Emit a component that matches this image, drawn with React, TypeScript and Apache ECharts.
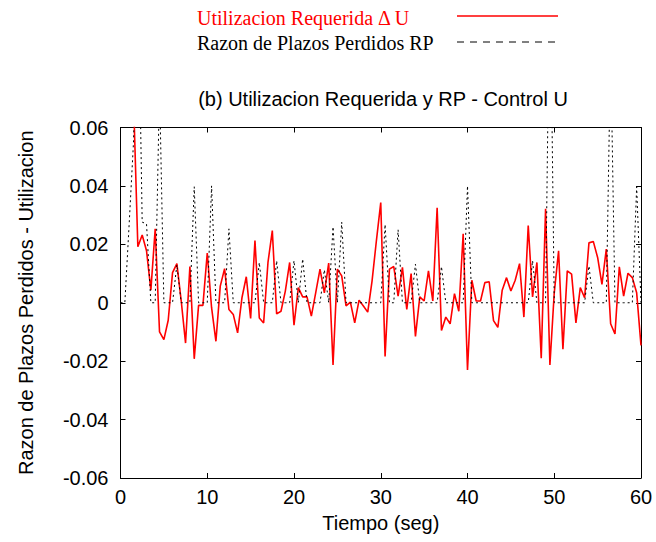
import React, { useEffect, useRef } from "react";
import * as echarts from "echarts";

// Sampling step (s) of both recorded signals
const STEP = 0.5;

// Utilizacion Requerida ΔU, samples every 0.5 s starting at t = 1.5 s
const RED_START = 1.5;
const redValues = [
  0.07, 0.0192, 0.0232, 0.0178, 0.0043, 0.0253, -0.01, -0.0126, -0.006, 0.0103,
  0.0134, 0.0006, -0.0138, 0.0124, -0.0192, -0.0009, -0.0009, 0.017, -0.0017, -0.0132,
  0.0057, 0.0117, -0.0023, -0.004, -0.0103, 0.0017, 0.0089, -0.0054, 0.0213, -0.0052,
  -0.0069, 0.0138, 0.0247, -0.0038, -0.0029, 0.004, 0.0138, -0.0077, 0.0052, 0.002,
  0.002, -0.0046, 0.0034, 0.0115, 0.0034, 0.0136, -0.0213, 0.0115, 0.0092, -0.0011,
  0.0002, -0.0069, 0.0009, -0.0011, -0.0032, 0.0075, 0.0213, 0.0343, -0.0184, 0.0115,
  0.0124, 0.0023, 0.0121, -0.0023, 0.01, -0.0115, 0.002, 0.0006, 0.0109, 0.0006,
  0.0325, -0.0095, -0.0049, -0.0072, 0.0031, -0.0029, 0.0236, -0.023, 0.0077, 0.0006,
  0.0006, 0.0069, 0.0072, -0.0061, -0.0084, 0.0043, 0.0086, 0.004, 0.0077, 0.0134,
  -0.0049, 0.0264, 0.002, 0.0138, -0.019, 0.0322, -0.0213, 0.0034, 0.0178, -0.0159,
  0.0109, 0.0098, -0.0069, 0.0052, 0.0017, 0.0205, 0.021, 0.0155, 0.0063, 0.0184,
  -0.0072, -0.0107, 0.0123, 0.0023, 0.0101, 0.0086, 0.0034, -0.0146,
];

// Razon de Plazos Perdidos RP, samples every 0.5 s starting at t = 0 s
const RP_START = 0;
const rpValues = [
  0, 0, 0.027, 0.055, 0.12, 0.0276, 0.027, 0, 0, 0.074,
  0, 0, 0, 0.013, 0, 0, 0, 0.0397, 0, 0,
  0, 0.04, 0, 0, 0, 0.0253, 0, 0, 0, 0,
  0, 0, 0.0138, 0, 0, 0, 0.0144, 0, 0, 0,
  0.0144, 0, 0.015, 0, 0, 0, 0, 0.0113, 0, 0.026,
  0, 0.0276, 0, 0, 0, 0, 0, 0, 0, 0,
  0, 0.0268, 0, 0, 0.025, 0, 0, 0, 0.0132, 0,
  0, 0, 0, 0, 0.0124, 0, 0, 0, 0, 0,
  0.04, 0, 0, 0, 0, 0, 0, 0, 0, 0,
  0, 0, 0, 0, 0, 0.0144, 0, 0, 0, 0.12,
  0, 0, 0, 0, 0, 0, 0, 0, 0.0126, 0,
  0, 0, 0, 0.087, 0, 0, 0, 0, 0, 0.0397,
  0,
];

const xTicks = { min: 0, max: 60, interval: 10 };
const yTicks = { min: -0.06, max: 0.06, interval: 0.02 };

const TITLE = "(b) Utilizacion Requerida y RP - Control U";
const X_NAME = "Tiempo (seg)";
const Y_NAME = "Razon de Plazos Perdidos - Utilizacion";
const RED_NAME = "Utilizacion Requerida \u0394 U";
const RP_NAME = "Razon de Plazos Perdidos RP";

const SANS = "'Liberation Sans', Arial, Helvetica, sans-serif";
const SERIF = "'Liberation Serif', 'Times New Roman', serif";

const toPairs = (start: number, vals: number[]) =>
  vals.map((v, i) => [start + i * STEP, v]);

export default function App() {
  const ref = useRef<HTMLDivElement>(null);

  useEffect(() => {
    if (!ref.current) return;
    const chart = echarts.init(ref.current, undefined, { renderer: "svg" });

    const axisLine = { show: true, onZero: false, lineStyle: { color: "#000", width: 1 } };
    const tickIn = { show: true, inside: true, length: 5, lineStyle: { color: "#000", width: 1 } };
    const labelStyle = { color: "#000", fontFamily: SANS, fontSize: 20 };

    const yFmt = (v: number) => (Math.abs(v) < 1e-9 ? "0" : v.toFixed(2));

    chart.setOption({
      animation: false,
      backgroundColor: "#fff",
      title: {
        text: TITLE,
        left: 383,
        top: 89,
        padding: 0,
        textAlign: "center",
        textStyle: { fontFamily: SANS, fontSize: 20, fontWeight: "normal", color: "#000" },
      },
      grid: { left: 120.5, right: 15, top: 127.5, bottom: 64, containLabel: false },
      xAxis: [
        {
          type: "value",
          position: "bottom",
          ...xTicks,
          name: X_NAME,
          nameLocation: "middle",
          nameGap: 35,
          nameTextStyle: labelStyle,
          axisLine,
          axisTick: tickIn,
          axisLabel: { ...labelStyle, margin: 9 },
          splitLine: { show: false },
        },
        {
          type: "value",
          position: "top",
          ...xTicks,
          axisLine,
          axisTick: tickIn,
          axisLabel: { show: false },
          splitLine: { show: false },
        },
      ],
      yAxis: [
        {
          type: "value",
          position: "left",
          ...yTicks,
          name: Y_NAME,
          nameLocation: "middle",
          nameGap: 85,
          nameTextStyle: labelStyle,
          axisLine,
          axisTick: tickIn,
          axisLabel: { ...labelStyle, margin: 12, formatter: yFmt },
          splitLine: { show: false },
        },
        {
          type: "value",
          position: "right",
          ...yTicks,
          axisLine,
          axisTick: tickIn,
          axisLabel: { show: false },
          splitLine: { show: false },
        },
      ],
      series: [
        {
          name: RED_NAME,
          type: "line",
          xAxisIndex: 0,
          yAxisIndex: 0,
          data: toPairs(RED_START, redValues),
          symbol: "none",
          clip: true,
          lineStyle: { color: "#ff0000", width: 1.6 },
          itemStyle: { color: "#ff0000" },
        },
        {
          name: RP_NAME,
          type: "line",
          xAxisIndex: 0,
          yAxisIndex: 0,
          data: toPairs(RP_START, rpValues),
          symbol: "none",
          clip: true,
          lineStyle: { color: "#000", width: 1, type: [2, 3] },
          itemStyle: { color: "#000" },
        },
      ],
      graphic: [
        {
          type: "text",
          left: 197,
          top: 8,
          style: { text: RED_NAME, fill: "#ff0000", font: `20px ${SERIF}` },
        },
        {
          type: "line",
          shape: { x1: 457, y1: 16, x2: 558, y2: 16 },
          style: { stroke: "#ff0000", lineWidth: 1.5 },
        },
        {
          type: "text",
          left: 197,
          top: 33,
          style: { text: RP_NAME, fill: "#000", font: `20px ${SERIF}` },
        },
        {
          type: "line",
          shape: { x1: 457, y1: 42, x2: 558, y2: 42 },
          style: { stroke: "#000", lineWidth: 1, lineDash: [7, 6] },
        },
      ],
    });

    return () => chart.dispose();
  }, []);

  return (
    <div
      ref={ref}
      style={{ position: "fixed", left: 0, top: 0, width: 656, height: 542, background: "#fff" }}
    />
  );
}
